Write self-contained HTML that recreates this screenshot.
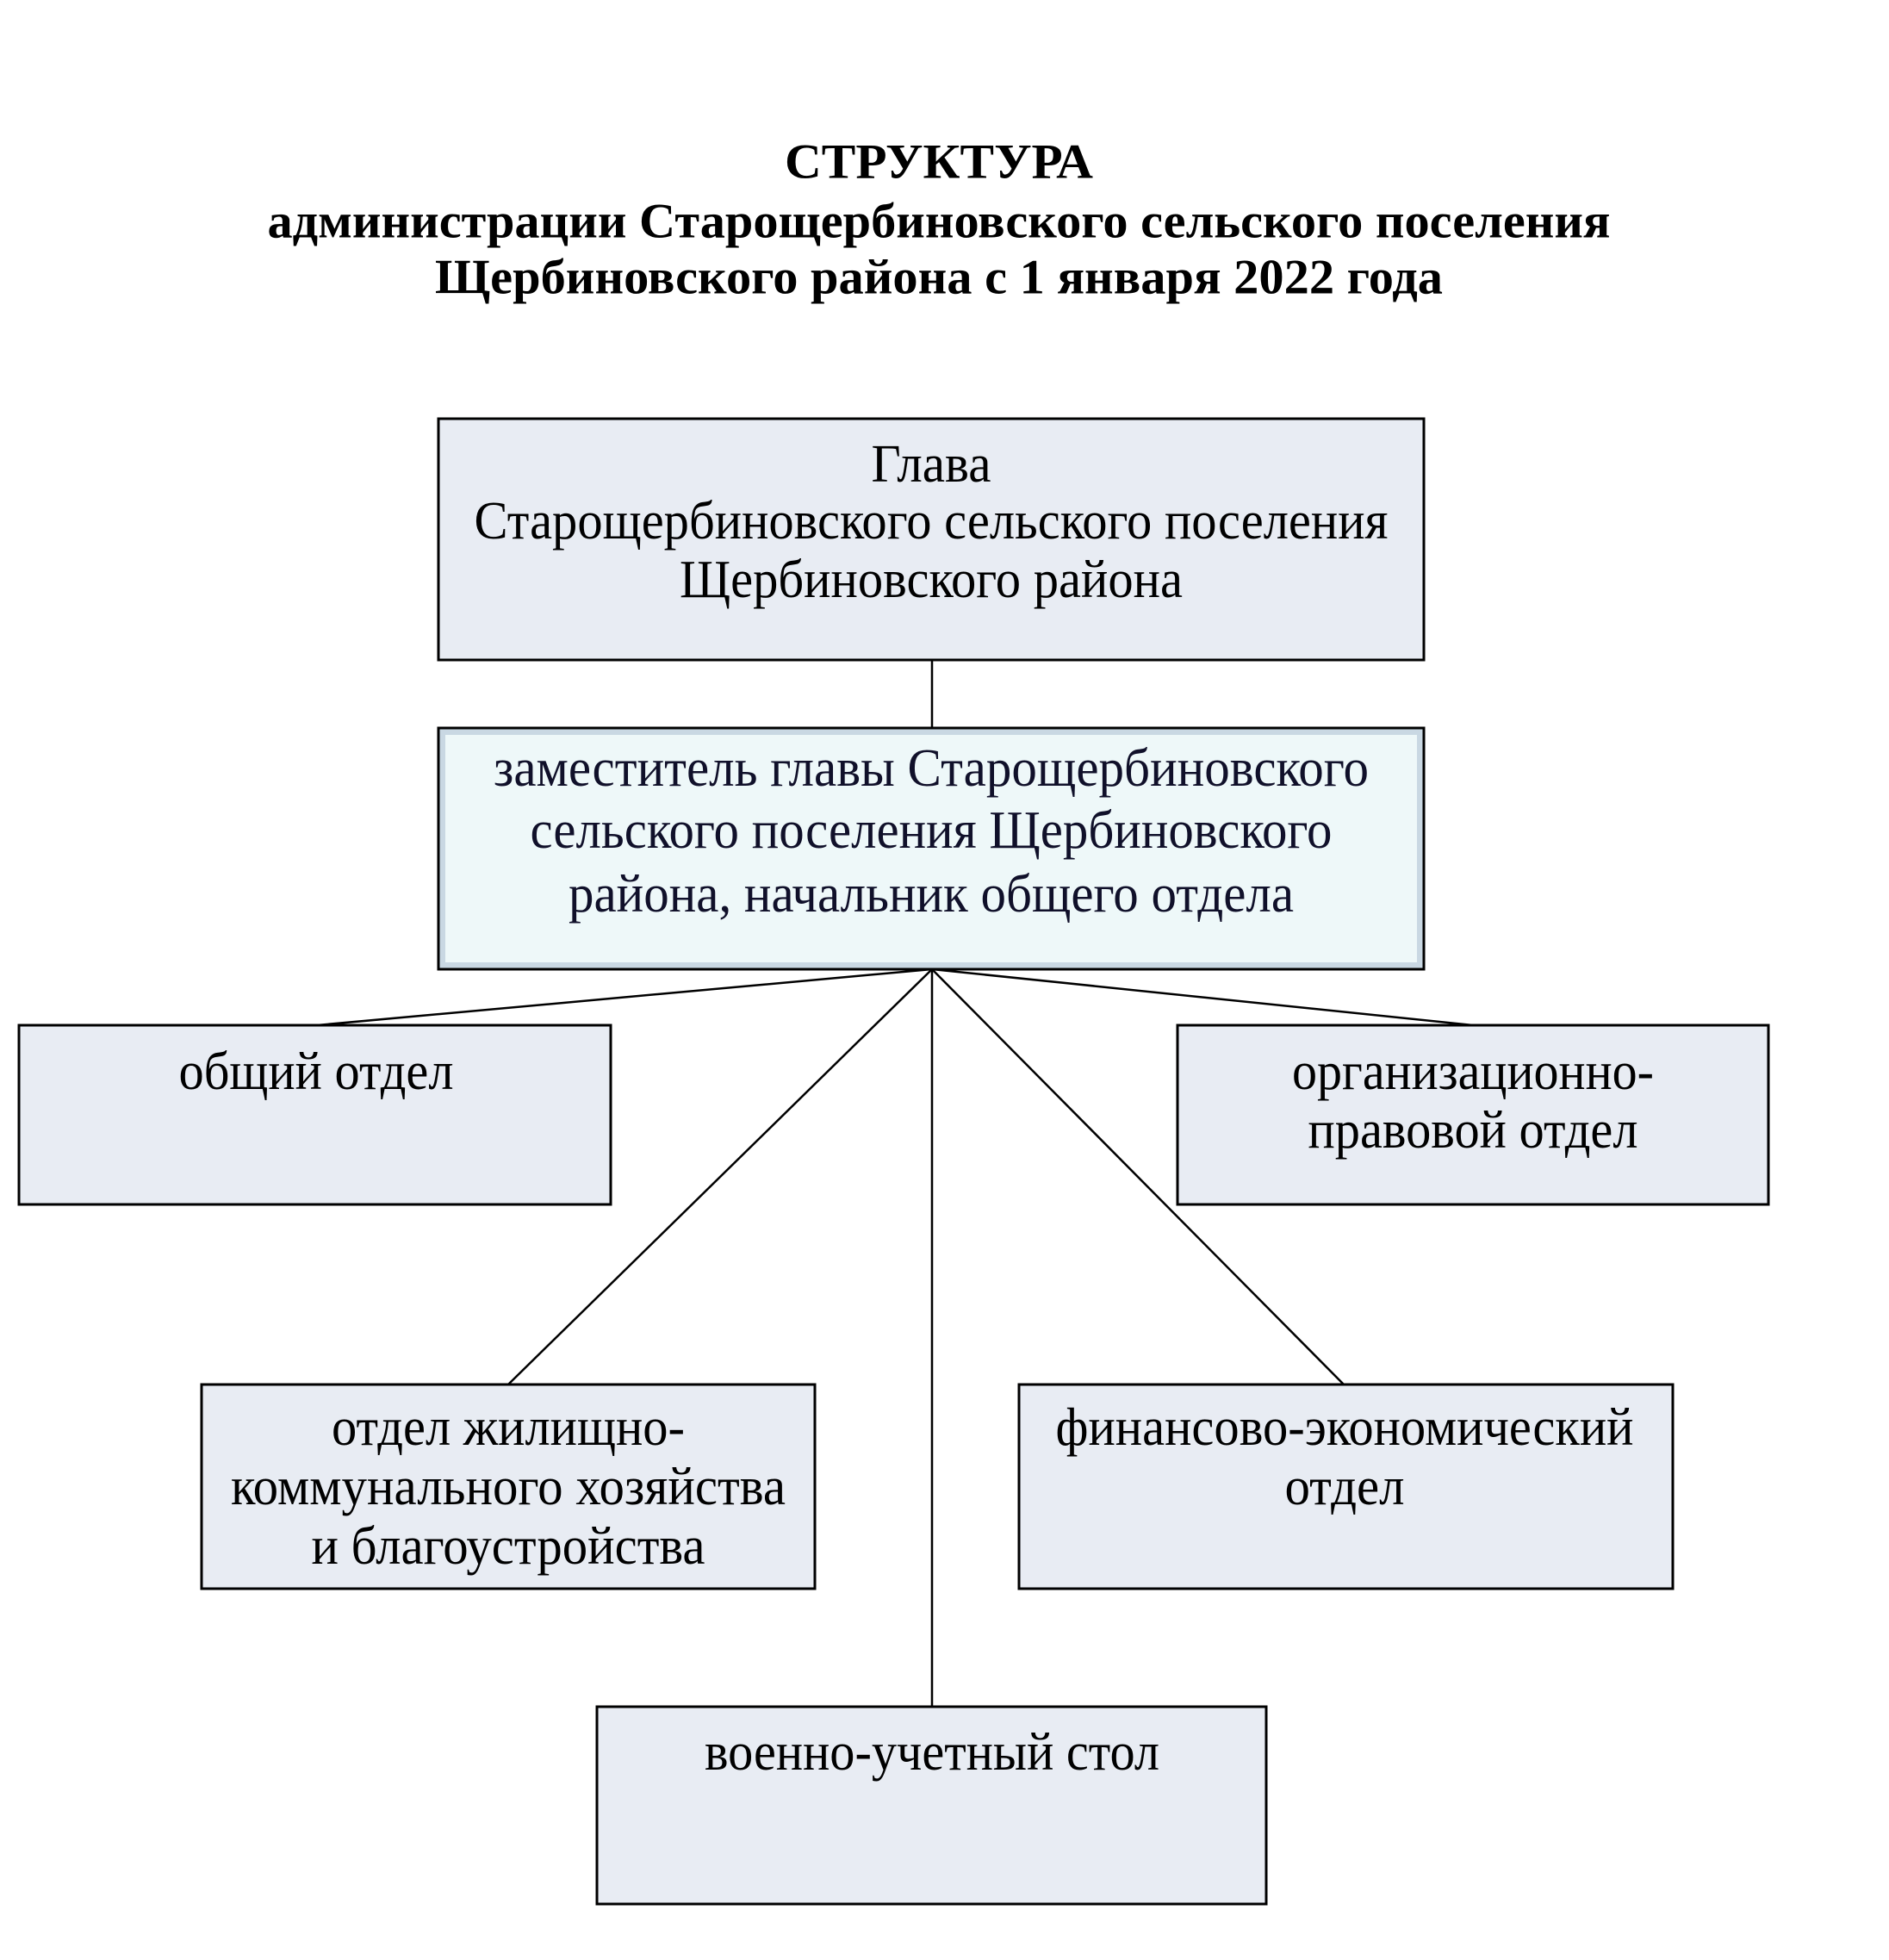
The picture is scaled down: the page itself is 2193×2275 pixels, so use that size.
<!DOCTYPE html>
<html><head><meta charset="utf-8"><style>
html,body{margin:0;padding:0;background:#fff}
svg{display:block}
text{font-family:"Liberation Serif",serif;text-anchor:middle;dominant-baseline:central}
</style></head><body>
<svg width="2193" height="2275" viewBox="0 0 2193 2275" xmlns="http://www.w3.org/2000/svg">
<g font-weight="bold" font-size="57" fill="#000">
<text x="1090" y="188" textLength="358" lengthAdjust="spacingAndGlyphs">СТРУКТУРА</text>
<text x="1090" y="257" textLength="1559" lengthAdjust="spacingAndGlyphs">администрации Старощербиновского сельского поселения</text>
<text x="1090" y="322" textLength="1170" lengthAdjust="spacingAndGlyphs">Щербиновского района с 1 января 2022 года</text>
</g>
<g transform="translate(3,0)">
<g stroke="#000" stroke-width="2.5" fill="none">
<line x1="1079" y1="766" x2="1079" y2="845"/>
<line x1="1079" y1="1125" x2="365" y2="1190"/>
<line x1="1079" y1="1125" x2="1707" y2="1190"/>
<line x1="1079" y1="1125" x2="587" y2="1607"/>
<line x1="1079" y1="1125" x2="1557" y2="1607"/>
<line x1="1079" y1="1125" x2="1079" y2="1981"/>
</g>
<g stroke="#000" stroke-width="3" fill="#e8ecf3">
<rect x="506" y="486" width="1144" height="280"/>
<rect x="19" y="1190" width="687" height="208"/>
<rect x="1364" y="1190" width="686" height="208"/>
<rect x="231" y="1607" width="712" height="237"/>
<rect x="1180" y="1607" width="759" height="237"/>
<rect x="690" y="1981" width="777" height="229"/>
</g>
<rect x="506" y="845" width="1144" height="280" fill="#c9d8e3" stroke="#000" stroke-width="3"/>
<rect x="514" y="853" width="1128" height="264" fill="#eef8f9"/>
<g font-size="62" fill="#000">
<text x="1078" y="539" textLength="139" lengthAdjust="spacingAndGlyphs">Глава</text>
<text x="1078" y="605" textLength="1061" lengthAdjust="spacingAndGlyphs">Старощербиновского сельского поселения</text>
<text x="1078" y="673" textLength="584" lengthAdjust="spacingAndGlyphs">Щербиновского района</text>
<g fill="#10102a">
<text x="1078" y="892" textLength="1016" lengthAdjust="spacingAndGlyphs">заместитель главы Старощербиновского</text>
<text x="1078" y="964" textLength="931" lengthAdjust="spacingAndGlyphs">сельского поселения Щербиновского</text>
<text x="1078" y="1038" textLength="842" lengthAdjust="spacingAndGlyphs">района, начальник общего отдела</text>
</g>
<text x="364" y="1244" textLength="319" lengthAdjust="spacingAndGlyphs">общий отдел</text>
<text x="1707" y="1244" textLength="420" lengthAdjust="spacingAndGlyphs">организационно-</text>
<text x="1707" y="1312" textLength="383" lengthAdjust="spacingAndGlyphs">правовой отдел</text>
<text x="587" y="1657" textLength="410" lengthAdjust="spacingAndGlyphs">отдел жилищно-</text>
<text x="587" y="1726" textLength="644" lengthAdjust="spacingAndGlyphs">коммунального хозяйства</text>
<text x="587" y="1795" textLength="457" lengthAdjust="spacingAndGlyphs">и благоустройства</text>
<text x="1558" y="1657" textLength="671" lengthAdjust="spacingAndGlyphs">финансово-экономический</text>
<text x="1558" y="1726" textLength="139" lengthAdjust="spacingAndGlyphs">отдел</text>
<text x="1079" y="2034" textLength="528" lengthAdjust="spacingAndGlyphs">военно-учетный стол</text>
</g>
</g>
</svg>
</body></html>
